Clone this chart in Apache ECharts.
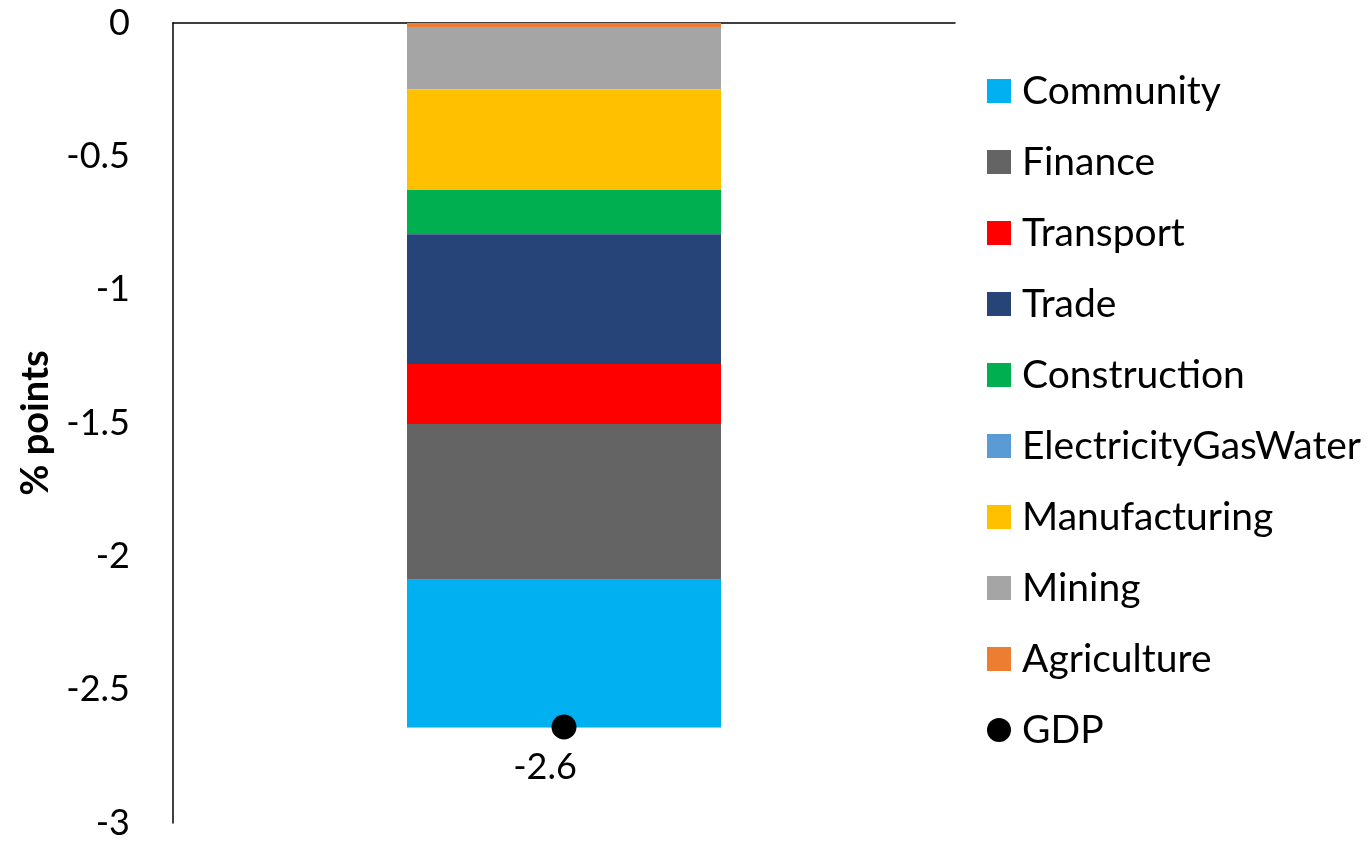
<!DOCTYPE html>
<html>
<head>
<meta charset="utf-8">
<script src="https://cdn.jsdelivr.net/npm/echarts@6/dist/echarts.min.js"></script>
<style>
  html, body { margin: 0; padding: 0; background: #fff; }
  #chart { width: 1372px; height: 841px; }
</style>
</head>
<body>
<div id="chart"></div>
<script>
// data
const categories = [""];
const sectors = ["Agriculture", "Mining", "Manufacturing", "ElectricityGasWater",
  "Construction", "Trade", "Transport", "Finance", "Community"];
const contributions = [-0.015, -0.234, -0.377, 0, -0.166, -0.487, -0.225, -0.584, -0.554];
const gdp = [-2.64];

const sectorColors = ["#ED7D31", "#A5A5A5", "#FFC000", "#5B9BD5",
  "#00B050", "#264478", "#FF0000", "#646464", "#00B0F0"];

const font = "Lato, 'Noto Sans', sans-serif";

const chart = echarts.init(document.getElementById("chart"));

const barSeries = sectors.map(function (name, i) {
  return {
    name: name,
    type: "bar",
    stack: "total",
    barWidth: 314,
    itemStyle: { color: sectorColors[i] },
    data: [contributions[i]]
  };
});

const option = {
  animation: false,
  grid: { left: 173, top: 23, right: 417, bottom: 16 },
  legend: {
    orient: "vertical",
    left: 982,
    top: 66,
    itemWidth: 24,
    itemHeight: 24,
    itemGap: 31,
    textStyle: { fontFamily: font, fontSize: 39, color: "#000", lineHeight: 40, padding: [0, 0, 0, 6] },
    data: sectors.slice().reverse().map(function (s) { return { name: s, icon: "rect" }; })
      .concat([{ name: "GDP", icon: "circle" }])
  },
  xAxis: {
    type: "category",
    data: categories,
    axisLine: { onZero: true, lineStyle: { color: "#000", width: 1.5 } },
    axisTick: { show: false },
    axisLabel: { show: false }
  },
  yAxis: {
    type: "value",
    min: -3,
    max: 0,
    interval: 0.5,
    name: "% points",
    nameLocation: "middle",
    nameRotate: 90,
    nameGap: 118,
    nameTextStyle: { fontFamily: font, fontSize: 38, fontWeight: "bold", color: "#000" },
    axisLine: { show: true, lineStyle: { color: "#000", width: 1.5 } },
    axisTick: { show: false },
    splitLine: { show: false },
    axisLabel: { fontFamily: font, fontSize: 36, color: "#000", margin: 43 }
  },
  series: barSeries.concat([{
    name: "GDP",
    type: "scatter",
    symbol: "circle",
    symbolSize: 25,
    itemStyle: { color: "#000", opacity: 1 },
    z: 5,
    label: {
      show: true,
      position: "bottom",
      distance: 10,
      offset: [-19, 0],
      fontFamily: font,
      fontSize: 36,
      color: "#000",
      formatter: function (p) { return p.value.toFixed(1); }
    },
    data: gdp
  }])
};

chart.setOption(option);
</script>
</body>
</html>
